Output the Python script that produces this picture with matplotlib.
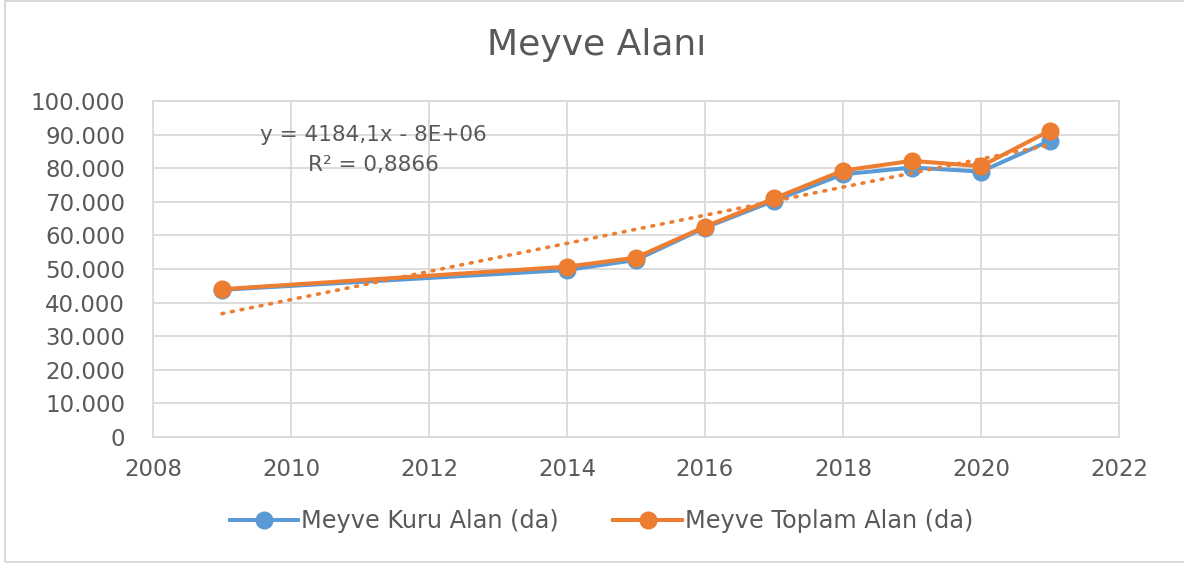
import matplotlib
matplotlib.use("Agg")
import matplotlib.pyplot as plt
from matplotlib.patches import Rectangle
from matplotlib.ticker import FuncFormatter
import numpy as np

# Meyve alanı verileri (dekar)
years = [2009, 2014, 2015, 2016, 2017, 2018, 2019, 2020, 2021]
kuru_alan = [43800, 49700, 52700, 62300, 70300, 78200, 80200, 79000, 88200]
toplam_alan = [44000, 50700, 53400, 62600, 71000, 79300, 82200, 80600, 91200]

title = "Meyve Alanı"
label_kuru = "Meyve Kuru Alan (da)"
label_toplam = "Meyve Toplam Alan (da)"
trend_slope = 4184.1
trend_eq = "y = 4184,1x - 8E+06"
trend_r2 = "R² = 0,8866"

x_ticks = list(range(2008, 2023, 2))
y_ticks = list(range(0, 100001, 10000))

BLUE = "#5B9BD5"
ORANGE = "#ED7D31"
TEXT = "#595959"
GRID = "#D9D9D9"

plt.rcParams["font.family"] = ["DejaVu Sans"]

fig = plt.figure(figsize=(11.84, 5.65), dpi=100)
ax = fig.add_axes([0.1292, 0.2265, 0.9451 - 0.1292, 0.8212 - 0.2265])

ax.plot(years, kuru_alan, color=BLUE, lw=2.9, marker="o", ms=12,
        label=label_kuru, zorder=3)
ax.plot(years, toplam_alan, color=ORANGE, lw=2.9, marker="o", ms=12,
        label=label_toplam, zorder=4)

# Doğrusal eğilim çizgisi (toplam alan)
xa = np.array(years, dtype=float)
ya = np.array(toplam_alan, dtype=float)
intercept = ya.mean() - trend_slope * xa.mean()
tx = np.array([xa.min(), xa.max()])
ax.plot(tx, trend_slope * tx + intercept, color=ORANGE, lw=2.6,
        linestyle=(0, (0.5, 2.2)), dash_capstyle="round", zorder=5)

ax.text(2011.2, 89900, trend_eq, ha="center", va="center", fontsize=15.5,
        color=TEXT, zorder=6)
ax.text(2011.2, 81000, trend_r2, ha="center", va="center", fontsize=15.5,
        color=TEXT, zorder=6)

ax.set_xlim(2008, 2022)
ax.set_ylim(0, 100000)
ax.set_xticks(x_ticks)
ax.set_yticks(y_ticks)
ax.yaxis.set_major_formatter(FuncFormatter(lambda v, p: f"{v:,.0f}".replace(",", ".")))
ax.tick_params(axis="both", length=0, labelsize=16.5, colors=TEXT)
ax.tick_params(axis="y", pad=20)
ax.tick_params(axis="x", pad=15)
ax.grid(True, color=GRID, lw=1.3)
ax.set_axisbelow(True)
for s in ax.spines.values():
    s.set_color(GRID)
    s.set_linewidth(1.3)

fig.text(0.504, 0.92, title, ha="center", va="center", fontsize=26, color=TEXT)

leg = fig.legend(loc="center", bbox_to_anchor=(0.508, 0.078), ncol=2,
                 frameon=False, fontsize=17.3, handlelength=2.87,
                 handletextpad=0.12, columnspacing=2.25, labelcolor=TEXT)

fig.patches.append(Rectangle((5 / 1184, 3 / 565), 1.2, 561 / 565,
                             transform=fig.transFigure, fill=False,
                             edgecolor=GRID, lw=1.5))

fig.savefig("out.png", dpi=100, facecolor="white")
